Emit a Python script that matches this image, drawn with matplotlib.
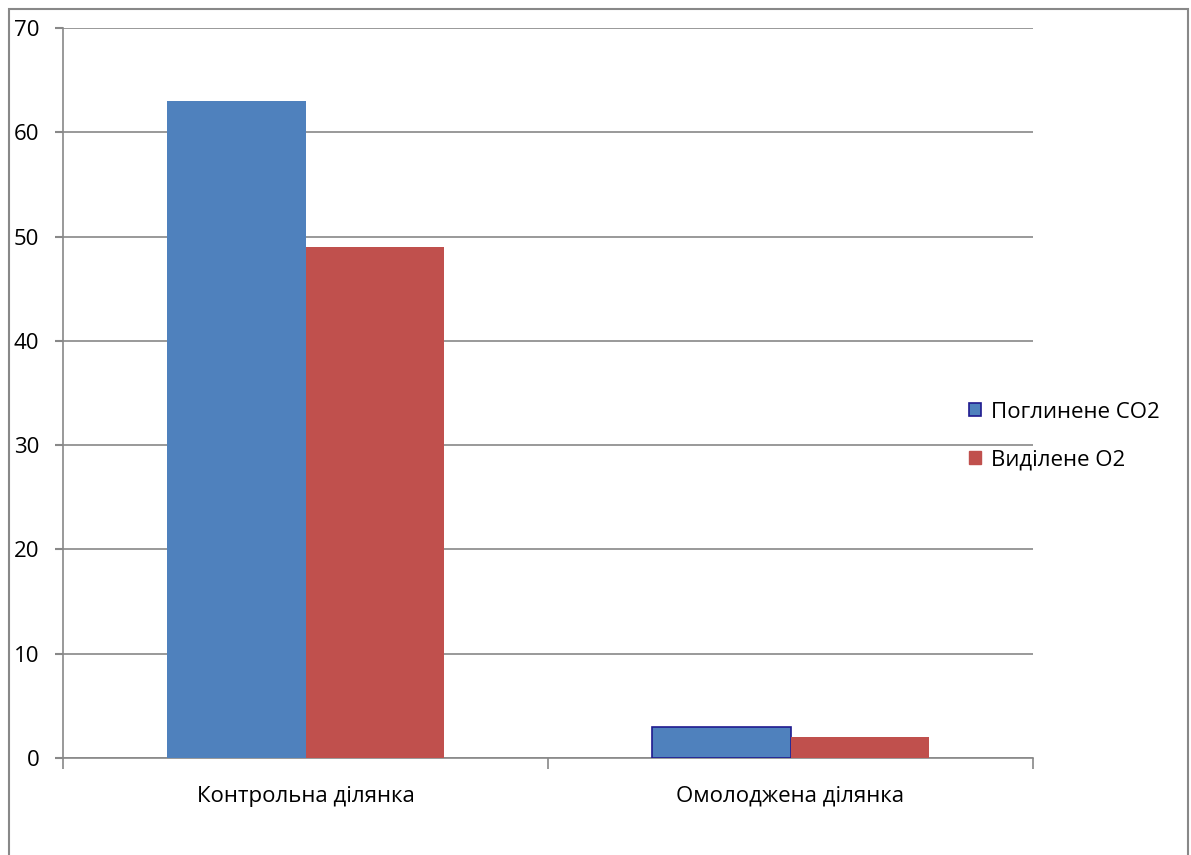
import matplotlib
matplotlib.use("Agg")
import matplotlib.pyplot as plt
from matplotlib.patches import Rectangle, Patch
import numpy as np

categories = ["Контрольна ділянка", "Омолоджена ділянка"]
series_names = ["Поглинене CO2", "Виділене O2"]
co2_values = [63, 3]
o2_values = [49, 2]
y_ticks = [0, 10, 20, 30, 40, 50, 60, 70]

plt.rcParams['font.family'] = ['Open Sans', 'DejaVu Sans']

fig = plt.figure(figsize=(11.91, 8.55), dpi=100)
W, H = 1191, 855
ax = fig.add_axes([63 / W, 1 - 758 / H, (1033 - 63) / W, (758 - 28) / H])

blue = '#4F81BD'
red = '#C0504D'
grid_c = '#888888'

x = np.arange(len(categories))
bw = 1 / 3.5
b1 = ax.bar(x - bw / 2, co2_values, width=bw, color=blue, zorder=3)
b2 = ax.bar(x + bw / 2, o2_values, width=bw, color=red, zorder=3)
b1[1].set_edgecolor('#1F1A8F')
b1[1].set_linewidth(1.2)

ax.set_xlim(-0.5, 1.5)
ax.set_ylim(0, 70)
ax.set_yticks(y_ticks)
ax.set_yticklabels([str(v) for v in y_ticks], fontsize=16)
ax.yaxis.grid(True, color=grid_c, linewidth=1.2, zorder=0)
ax.set_axisbelow(True)

ax.set_xticks([-0.5, 0.5, 1.5])
ax.set_xticklabels([])
ax.set_xticks(x, minor=True)
ax.set_xticklabels(categories, minor=True, fontsize=16)
ax.tick_params(axis='x', which='minor', length=0, pad=20)
ax.tick_params(axis='x', which='major', length=8, width=1.2, color=grid_c, direction='out')
ax.tick_params(axis='y', which='major', left=True, length=6, width=1.5,
               color=grid_c, direction='out', pad=11)

for s in ['top', 'right']:
    ax.spines[s].set_visible(False)
for s in ['left', 'bottom']:
    ax.spines[s].set_color(grid_c)
    ax.spines[s].set_linewidth(1.2)

handles = [Patch(facecolor=blue, edgecolor='#1F1A8F', linewidth=1.2),
           Patch(facecolor=red, edgecolor=red)]
leg = fig.legend(handles, series_names, loc='center left',
                 bbox_to_anchor=(949 / W, 1 - 436 / H), frameon=False,
                 fontsize=16, handlelength=0.55, handleheight=0.55,
                 handletextpad=0.45, labelspacing=1.2)

fig.patches.append(Rectangle((9 / W, -0.05), (1188 - 9) / W, 1 - 9 / H + 0.05,
                             transform=fig.transFigure, fill=False,
                             edgecolor=grid_c, linewidth=1.5))

fig.savefig('out.png', dpi=100)
